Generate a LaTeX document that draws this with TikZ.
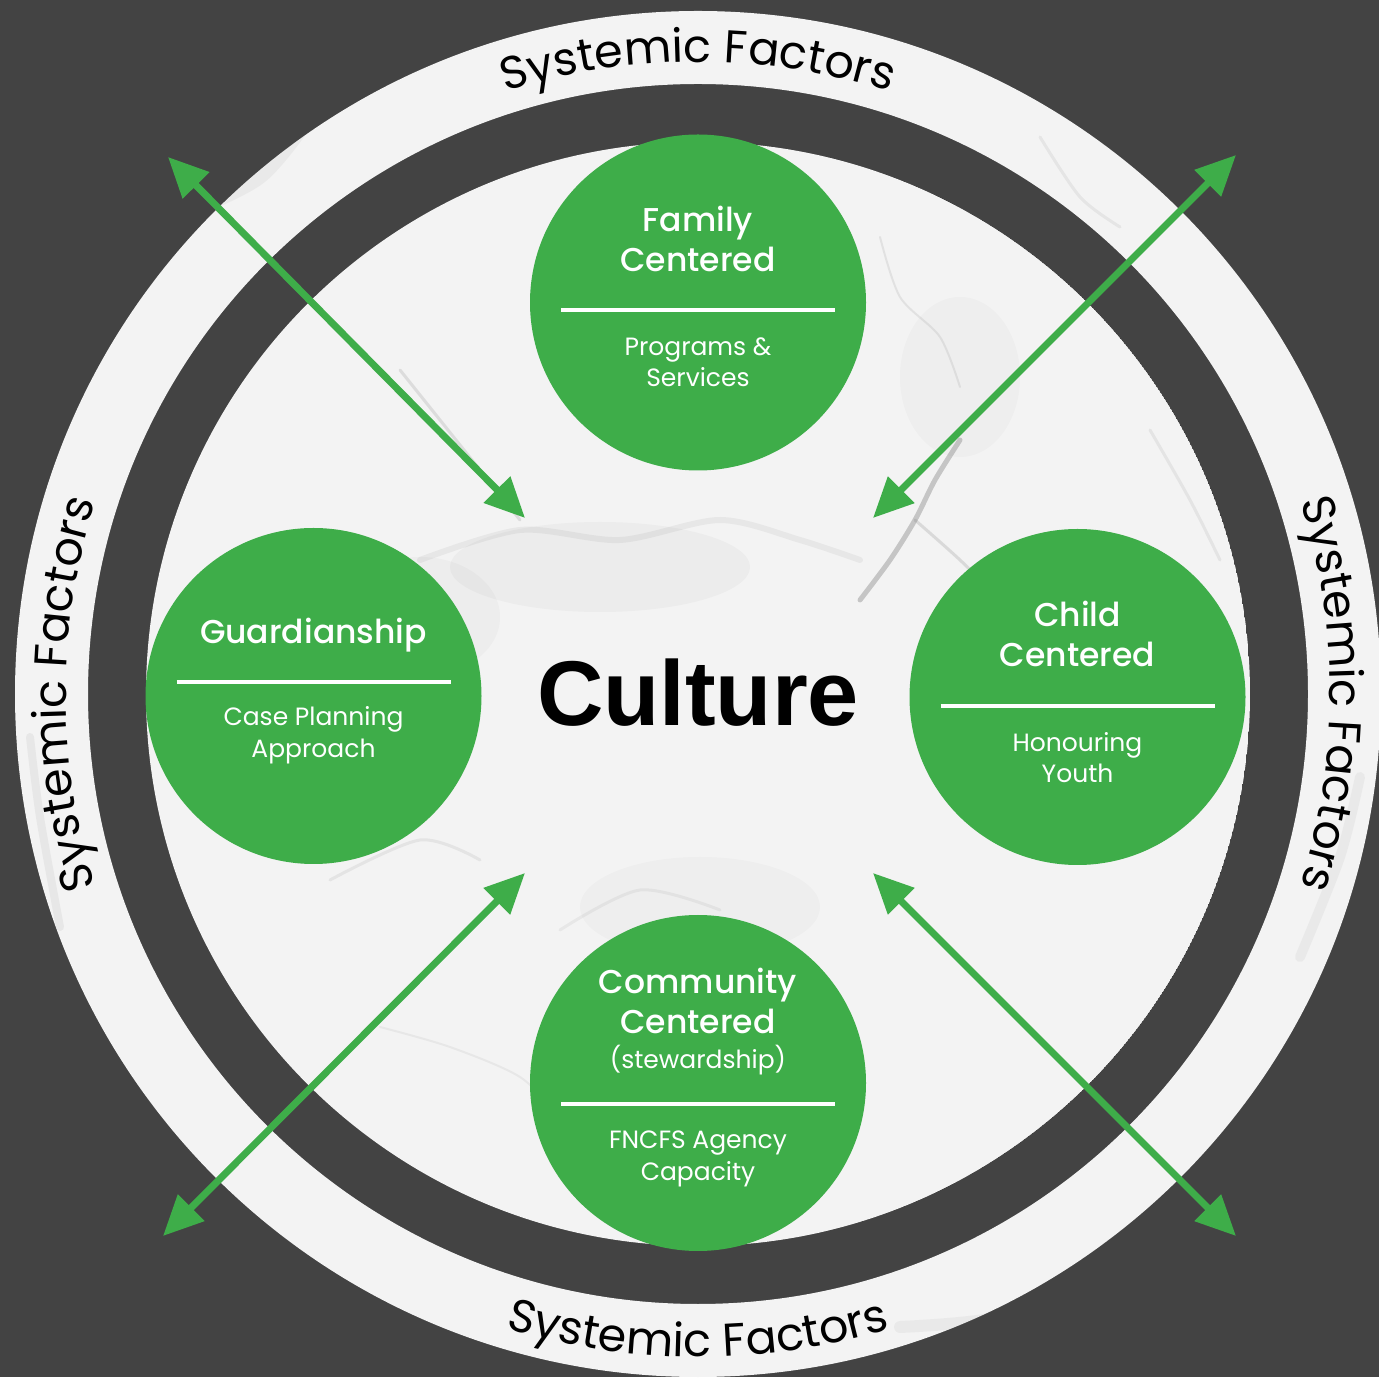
\documentclass[tikz,border=0pt]{standalone}
\usepackage{fontspec}
\setmainfont{Poppins}
\newfontfamily\popmed{Poppins Medium}
\newfontfamily\arialf{Liberation Sans}
\usetikzlibrary{arrows.meta,decorations.text}
\definecolor{bgdark}{RGB}{67,67,67}
\definecolor{leafgreen}{RGB}{62,173,73}
\definecolor{marble}{RGB}{243,243,243}
\begin{document}
\begin{tikzpicture}[x=1pt,y=1pt,
  gcirc/.style={circle, fill=leafgreen, minimum size=336pt, inner sep=0pt},
  ttl/.style={text=white, font=\popmed\fontsize{33}{33}\selectfont, text height=0.72em, text depth=0pt, inner sep=0pt},
  sub/.style={text=white, font=\fontsize{25}{25}\selectfont, text height=0.72em, text depth=0pt, inner sep=0pt},
  rulel/.style={white, line width=4pt},
  garrow/.style={leafgreen, line width=7pt, {Triangle[length=40pt,width=36pt]}-{Triangle[length=40pt,width=36pt]}},
  vein/.style={gray, line cap=round, line join=round},
  ringtext/.style={decorate, decoration={text along path, text align=center,
     text={|\fontsize{46}{46}\selectfont|Systemic Factors}}}
]
\useasboundingbox (0,0) rectangle (1379,1377);
\fill[bgdark] (0,0) rectangle (1379,1377);
\coordinate (C) at (698,683);

% outer marble ring
\begin{scope}[even odd rule]
  \fill[marble] (C) circle[radius=683pt] (C) circle[radius=610pt];
  \clip (C) circle[radius=683pt] (C) circle[radius=610pt];
  \draw[vein, opacity=.08, line width=14pt] plot[smooth] coordinates {(150,1150) (260,1200) (330,1290)};
  \draw[vein, opacity=.12, line width=3pt] plot[smooth] coordinates {(1040,1240) (1080,1180) (1120,1150)};
  \draw[vein, opacity=.08, line width=10pt] plot[smooth] coordinates {(1300,420) (1340,520) (1360,600)};
  \draw[vein, opacity=.10, line width=8pt] plot[smooth] coordinates {(60,450) (40,560) (30,640)};
  \draw[vein, opacity=.08, line width=12pt] plot[smooth] coordinates {(900,50) (1000,60) (1100,100)};
  \draw[vein, opacity=.10, line width=4pt] plot[smooth] coordinates {(200,160) (260,130) (320,90)};
\end{scope}

% inner marble disk
\begin{scope}
  \clip (C) circle[radius=552pt];
  \fill[marble] (C) circle[radius=552pt];
  \fill[gray, opacity=.06] (600,810) ellipse[x radius=150pt, y radius=45pt];
  \fill[gray, opacity=.05] (420,760) ellipse[x radius=80pt, y radius=60pt];
  \fill[gray, opacity=.04] (960,1000) ellipse[x radius=60pt, y radius=80pt];
  \fill[gray, opacity=.04] (700,470) ellipse[x radius=120pt, y radius=50pt];
  \draw[vein, opacity=.40, line width=5pt] plot[smooth] coordinates {(860,777) (890,817) (915,857) (935,897) (960,937)};
  \draw[vein, opacity=.22, line width=3pt] plot[smooth] coordinates {(915,857) (960,817) (1000,777)};
  \draw[vein, opacity=.20, line width=3pt] plot[smooth] coordinates {(400,1007) (440,957) (480,907) (520,857)};
  \draw[vein, opacity=.10, line width=6pt] plot[smooth] coordinates {(420,817) (520,847) (620,837) (720,857) (800,837) (860,817)};
  \draw[vein, opacity=.13, line width=3pt] plot[smooth] coordinates {(330,497) (420,537) (480,517)};
  \draw[vein, opacity=.10, line width=3pt] plot[smooth] coordinates {(560,447) (640,487) (720,467)};
  \draw[vein, opacity=.13, line width=3pt] plot[smooth] coordinates {(1150,947) (1190,877) (1220,817)};
  \draw[vein, opacity=.15, line width=2pt] plot[smooth] coordinates {(880,1140) (900,1080) (940,1040) (960,990)};
  \draw[vein, opacity=.10, line width=2pt] plot[smooth] coordinates {(380,350) (450,330) (520,300) (560,260)};
\end{scope}

% ring labels
\path[ringtext] ([shift={(C)}]125:632pt) arc[start angle=125, end angle=55, radius=632pt];
\path[ringtext] ([shift={(C)}]215:632pt) arc[start angle=215, end angle=145, radius=632pt];
\path[ringtext] ([shift={(C)}]35:632pt) arc[start angle=35, end angle=-35, radius=632pt];
\path[ringtext] ([shift={(C)}]235:663pt) arc[start angle=235, end angle=305, radius=663pt];

% arrows
\coordinate (nwo) at (168,1220);
\coordinate (nwi) at (525,859);
\coordinate (neo) at (1236,1222);
\coordinate (nei) at (873,859);
\coordinate (swo) at (163,141);
\coordinate (swi) at (525,504);
\coordinate (seo) at (1236,141);
\coordinate (sei) at (873,504);
\draw[garrow] (nwo) -- (nwi);
\draw[garrow] (neo) -- (nei);
\draw[garrow] (swo) -- (swi);
\draw[garrow] (seo) -- (sei);

% culture
\node[font=\arialf\bfseries\fontsize{92}{92}\selectfont, text=black, inner sep=0pt] (cult) at (698,684) {Culture};

% top circle
\node[gcirc] (fam) at (698,1074.5) {};
\node[ttl] (famA) at ([yshift=74.5pt]fam.center) {Family};
\node[ttl] (famB) at ([yshift=34.5pt]fam.center) {Centered};
\draw[rulel] ([xshift=-137pt,yshift=-7.5pt]fam.center) -- ([xshift=137pt,yshift=-7.5pt]fam.center);
\node[sub] (famC) at ([yshift=-49.5pt]fam.center) {Programs \&};
\node[sub] (famD) at ([yshift=-80.5pt]fam.center) {Services};

% left circle
\node[gcirc] (gua) at (313.5,681) {};
\node[ttl] (guaA) at ([yshift=56pt]gua.center) {Guardianship};
\draw[rulel] ([xshift=-137pt,yshift=14pt]gua.center) -- ([xshift=137pt,yshift=14pt]gua.center);
\node[sub] (guaC) at ([yshift=-26pt]gua.center) {Case Planning};
\node[sub] (guaD) at ([yshift=-58pt]gua.center) {Approach};

% right circle
\node[gcirc] (chi) at (1077.5,680) {};
\node[ttl] (chiA) at ([yshift=74pt]chi.center) {Child};
\node[ttl] (chiB) at ([yshift=34pt]chi.center) {Centered};
\draw[rulel] ([xshift=-137pt,yshift=-9pt]chi.center) -- ([xshift=137pt,yshift=-9pt]chi.center);
\node[sub] (chiC) at ([yshift=-51pt]chi.center) {Honouring};
\node[sub] (chiD) at ([yshift=-82pt]chi.center) {Youth};

% bottom circle
\node[gcirc] (com) at (698,294) {};
\node[ttl] (comA) at ([yshift=93pt]com.center) {Community};
\node[ttl] (comB) at ([yshift=53pt]com.center) {Centered};
\node[sub] (comP) at ([yshift=18pt]com.center) {(stewardship)};
\draw[rulel] ([xshift=-137pt,yshift=-21pt]com.center) -- ([xshift=137pt,yshift=-21pt]com.center);
\node[sub] (comC) at ([yshift=-62pt]com.center) {FNCFS Agency};
\node[sub] (comD) at ([yshift=-94pt]com.center) {Capacity};
\end{tikzpicture}
\end{document}
